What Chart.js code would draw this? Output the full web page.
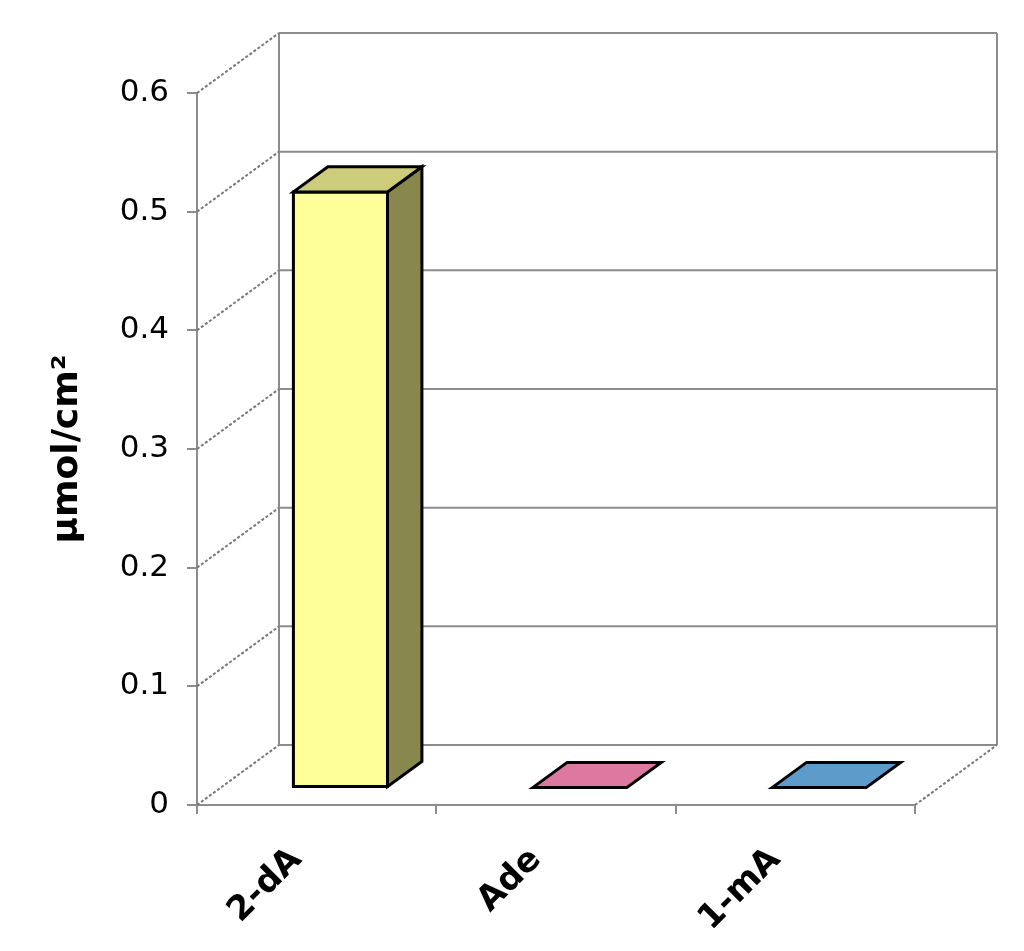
<!DOCTYPE html>
<html>
<head>
<meta charset="utf-8">
<script src="https://cdn.jsdelivr.net/npm/chart.js@4.4.0/dist/chart.umd.min.js"></script>
<style>
  body { margin: 0; background: #fff; }
  #wrap { width: 1024px; height: 951px; }
</style>
</head>
<body>
<div id="wrap"><canvas id="chart"></canvas></div>
<script>
'use strict';

//#region Data

const categories = ['2-dA', 'Ade', '1-mA'];
const amounts = [0.502, 0, 0];
const yTicks = [0, 0.1, 0.2, 0.3, 0.4, 0.5, 0.6];
const yTitle = 'μmol/cm²';

//#endregion

//#region Styles

const frontColors = ['#ffff99', '#dd78a0', '#5d9bcb'];
const topColors = ['#cccc7a', '#dd78a0', '#5d9bcb'];
const sideColors = ['#88884e', '#a85a78', '#44769c'];
const lineGray = '#8c8c8c';

// offset of the back wall from the front plane
const depthX = 82;
const depthY = -60;
// where the bars sit between front (0) and back (1)
const barFront = 0.29;
const barBack = 0.71;

//#endregion

function line(ctx, x1, y1, x2, y2) {
  ctx.beginPath();
  ctx.moveTo(x1, y1);
  ctx.lineTo(x2, y2);
  ctx.stroke();
}

function poly(ctx, pts, fill) {
  ctx.beginPath();
  ctx.moveTo(pts[0][0], pts[0][1]);
  for (let i = 1; i < pts.length; i++) {
    ctx.lineTo(pts[i][0], pts[i][1]);
  }
  ctx.closePath();
  ctx.fillStyle = fill;
  ctx.fill();
  ctx.stroke();
}

const box3d = {
  id: 'box3d',
  beforeDatasetsDraw(chart) {
    const {ctx, chartArea: {left, right, top, bottom}, scales: {y}} = chart;
    ctx.save();
    ctx.strokeStyle = lineGray;
    ctx.lineWidth = 2;
    yTicks.forEach(v => {
      const py = y.getPixelForValue(v);
      line(ctx, left + depthX, py + depthY, right + depthX, py + depthY);
    });
    line(ctx, left + depthX, top + depthY, left + depthX, bottom + depthY);
    line(ctx, right + depthX, top + depthY, right + depthX, bottom + depthY);

    ctx.setLineDash([3, 2]);
    ctx.strokeStyle = '#777';
    yTicks.forEach(v => {
      const py = y.getPixelForValue(v);
      line(ctx, left, py, left + depthX, py + depthY);
    });
    line(ctx, right, bottom, right + depthX, bottom + depthY);
    ctx.restore();
  },
  afterDatasetsDraw(chart) {
    const ctx = chart.ctx;
    const meta = chart.getDatasetMeta(0);
    const dx = depthX * (barBack - barFront);
    const dy = depthY * (barBack - barFront);
    ctx.save();
    ctx.strokeStyle = '#000';
    ctx.lineWidth = 3;
    ctx.lineJoin = 'miter';
    meta.data.forEach((bar, i) => {
      const half = bar.width / 2;
      const x0 = bar.x - half + depthX * barFront;
      const x1 = bar.x + half + depthX * barFront;
      const yt = bar.y + depthY * barFront;
      const yb = bar.base + depthY * barFront;
      if (yb - yt > 0.5) {
        poly(ctx, [[x1, yt], [x1 + dx, yt + dy], [x1 + dx, yb + dy], [x1, yb]], sideColors[i]);
        poly(ctx, [[x0, yt], [x1, yt], [x1, yb], [x0, yb]], frontColors[i]);
      }
      poly(ctx, [[x0, yt], [x0 + dx, yt + dy], [x1 + dx, yt + dy], [x1, yt]], topColors[i]);
    });
    ctx.restore();
  }
};

const chartElem = document.getElementById('chart');

const chart = new Chart(chartElem.getContext('2d'), { //eslint-disable-line
  type: 'bar',
  data: {
    labels: categories,
    datasets: [{
      data: amounts,
      backgroundColor: 'rgba(0,0,0,0)',
      borderWidth: 0,
      barPercentage: 0.393,
      categoryPercentage: 1
    }]
  },
  options: {
    responsive: true,
    maintainAspectRatio: false,
    animation: false,
    layout: {
      padding: { top: 93, right: 109, left: 0, bottom: 0 }
    },
    plugins: {
      legend: { display: false },
      tooltip: { enabled: false }
    },
    scales: {
      x: {
        offset: true,
        grid: {
          offset: true,
          drawOnChartArea: false,
          tickLength: 9,
          color: lineGray,
          lineWidth: 2
        },
        border: { color: lineGray, width: 2 },
        ticks: {
          minRotation: 45,
          maxRotation: 45,
          padding: 26,
          labelOffset: -20,
          color: '#000',
          font: { family: 'DejaVu Sans', size: 34, weight: 'bold' }
        },
        afterFit(scale) { scale.height = 146; }
      },
      y: {
        min: 0,
        max: 0.6,
        grid: {
          drawOnChartArea: false,
          tickLength: 10,
          color: lineGray,
          lineWidth: 2
        },
        border: { color: lineGray, width: 2 },
        ticks: {
          stepSize: 0.1,
          padding: 18,
          color: '#000',
          font: { family: 'DejaVu Sans', size: 31 }
        },
        title: {
          display: true,
          text: yTitle,
          color: '#000',
          padding: { top: 46 },
          font: { family: 'DejaVu Sans', size: 36, weight: 'bold' }
        },
        afterFit(scale) { scale.width = 197; }
      }
    }
  },
  plugins: [box3d]
});
</script>
</body>
</html>
